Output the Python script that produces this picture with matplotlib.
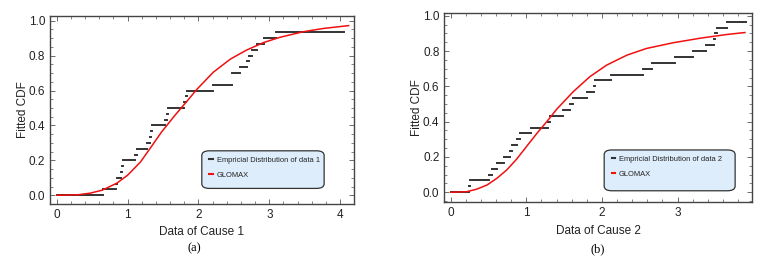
import numpy as np
import matplotlib
matplotlib.use('Agg')
from matplotlib import pyplot as plt
from matplotlib.lines import Line2D
from matplotlib.patches import FancyBboxPatch
from matplotlib.ticker import MultipleLocator

plt.rcParams['font.family'] = ['Liberation Sans', 'DejaVu Sans']

# sample size behind both empirical CDFs
n_obs = 30

# data 1: x where the empirical CDF jumps up by 1/30, and where the last step ends
jumps_1 = [0.65, 0.84, 0.85, 0.90, 0.92, 0.93, 1.10, 1.13, 1.27, 1.31,
           1.33, 1.35, 1.53, 1.55, 1.57, 1.80, 1.83, 1.84, 2.21, 2.47,
           2.48, 2.58, 2.69, 2.71, 2.76, 2.83, 2.92, 3.10]
end_1 = 4.05

# data 2
jumps_2 = [0.24, 0.25, 0.51, 0.54, 0.61, 0.71, 0.78, 0.81, 0.88, 0.91,
           1.06, 1.29, 1.31, 1.48, 1.58, 1.61, 1.80, 1.90, 1.91, 2.12,
           2.54, 2.66, 2.96, 3.20, 3.38, 3.48, 3.50, 3.52, 3.65]
end_2 = 3.91

# fitted GLOMAX cdf
glomax_x1 = [0, 0.30, 0.47, 0.64, 0.85, 1.00, 1.18, 1.32, 1.48, 1.67,
             1.84, 1.98, 2.21, 2.45, 2.68, 2.92, 3.15, 3.48, 3.77, 4.12]
glomax_y1 = [0, 0.003, 0.012, 0.029, 0.070, 0.115, 0.190, 0.270, 0.363, 0.459,
             0.540, 0.608, 0.705, 0.780, 0.832, 0.875, 0.905, 0.937, 0.956, 0.972]

glomax_x2 = [0, 0.21, 0.34, 0.48, 0.61, 0.74, 0.87, 1.00, 1.14, 1.27,
             1.40, 1.62, 1.84, 2.06, 2.33, 2.59, 2.94, 3.30, 3.65, 3.89]
glomax_y2 = [0, 0.003, 0.017, 0.041, 0.079, 0.126, 0.187, 0.258, 0.334, 0.400,
             0.470, 0.570, 0.655, 0.720, 0.777, 0.815, 0.847, 0.873, 0.894, 0.905]

fig = plt.figure(figsize=(7.71, 2.71), dpi=100)
ax1 = fig.add_axes([0.0649, 0.2472, 0.3937, 0.6937])
ax2 = fig.add_axes([0.5763, 0.2535, 0.3987, 0.6974])


def draw_panel(ax, jumps, end, gx, gy, xlabel, label, xlim, ylim, xticks, box):
    starts = [0] + jumps
    ends = jumps + [end]
    levels = np.arange(len(starts)) / n_obs
    ax.hlines(levels, starts, ends, color='#333333', lw=1.4, capstyle='projecting')
    ax.plot(gx, gy, color='#f01010', lw=1.1)

    ax.set_xlim(*xlim)
    ax.set_ylim(*ylim)
    ax.set_xticks(xticks)
    ax.set_yticks([0, 0.2, 0.4, 0.6, 0.8, 1.0])
    ax.xaxis.set_minor_locator(MultipleLocator(0.2))
    ax.yaxis.set_minor_locator(MultipleLocator(0.05))
    ax.tick_params(which='both', direction='in', top=True, right=True,
                   color='#555555', labelsize=8.5, labelcolor='#222222')
    ax.tick_params(which='major', length=3.5, width=0.6)
    ax.tick_params(which='minor', length=2, width=0.5)
    for s in ax.spines.values():
        s.set_color('#444444')
        s.set_linewidth(1.0)
    ax.set_xlabel(xlabel, fontsize=8.5, color='#222222', labelpad=4)
    ax.set_ylabel('Fitted CDF', fontsize=8.5, color='#222222', labelpad=0)

    # rounded legend box like the Mathematica one
    x0, y0, x1, y1 = box
    ax.add_patch(FancyBboxPatch((x0, y0), x1 - x0, y1 - y0,
                                boxstyle='round,pad=0,rounding_size=0.025',
                                transform=ax.transAxes, facecolor='#deedfb',
                                edgecolor='#333333', lw=0.9, zorder=5))
    handles = [Line2D([], [], color='#333333', lw=1.5),
               Line2D([], [], color='#f01010', lw=1.5)]
    leg = ax.legend(handles, [label, 'GLOMAX'], loc='upper left',
                    bbox_to_anchor=(x0 + 0.025, y1 - 0.03), frameon=False,
                    fontsize=5.4, handlelength=0.45, handletextpad=0.5,
                    labelspacing=1.05, borderpad=0, borderaxespad=0)
    leg.set_zorder(6)
    for t in leg.get_texts():
        t.set_color('#222222')


draw_panel(ax1, jumps_1, end_1, glomax_x1, glomax_y1, 'Data of Cause 1',
           'Empricial Distribution of data 1', (-0.095, 4.19), (-0.05, 1.027),
           [0, 1, 2, 3, 4], (0.50, 0.083, 0.903, 0.283))
draw_panel(ax2, jumps_2, end_2, glomax_x2, glomax_y2, 'Data of Cause 2',
           'Empricial Distribution of data 2', (-0.085, 3.98), (-0.057, 1.014),
           [0, 1, 2, 3], (0.52, 0.061, 0.946, 0.277))

fig.text(194 / 771, 1 - 248 / 271, '(a)', ha='center', va='center',
         fontsize=9, family='Liberation Serif')
fig.text(598 / 771, 1 - 249 / 271, '(b)', ha='center', va='center',
         fontsize=9, family='Liberation Serif')

fig.savefig('out.png', dpi=100)
